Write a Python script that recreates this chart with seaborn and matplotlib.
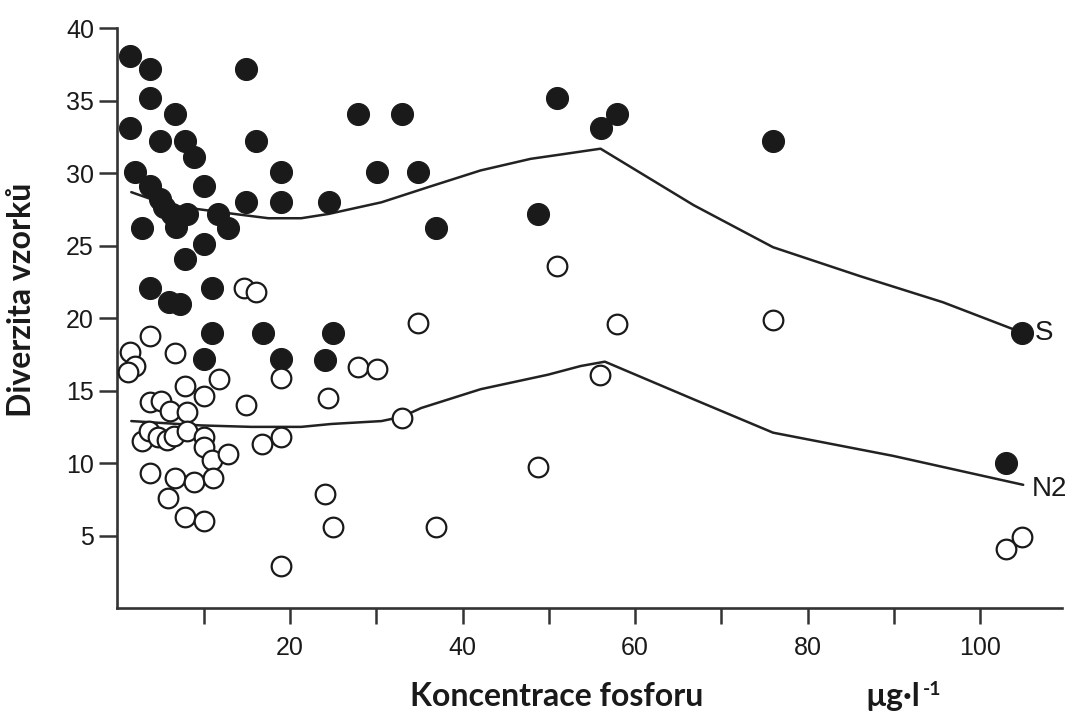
import matplotlib
matplotlib.use("Agg")
import matplotlib.pyplot as plt
import seaborn as sns
import pandas as pd

# body points (S, filled)
s_x = [1.4, 3.8, 3.8, 6.7, 1.4, 4.9, 7.8, 8.9, 2.0, 3.8, 10.0, 4.9, 5.4, 6.3, 8.1, 6.8, 2.8,
       11.7, 12.8, 10.0, 7.8, 3.8, 10.9, 6.0, 7.2, 14.9, 16.0, 19.0, 14.9, 19.0, 11.0, 16.9,
       10.0, 19.0, 27.9, 33.0, 50.9, 30.1, 34.8, 24.5, 36.9, 48.7, 25.0, 24.0, 57.9, 56.0,
       76.0, 104.9, 103.0]
s_y = [38.1, 37.2, 35.2, 34.1, 33.1, 32.2, 32.2, 31.1, 30.1, 29.1, 29.1, 28.2, 27.7, 27.2,
       27.2, 26.3, 26.2, 27.2, 26.2, 25.1, 24.1, 22.1, 22.1, 21.1, 21.0, 37.2, 32.2, 30.1,
       28.0, 28.0, 19.0, 19.0, 17.2, 17.2, 34.1, 34.1, 35.2, 30.1, 30.1, 28.0, 26.2, 27.2,
       19.0, 17.1, 34.1, 33.1, 32.2, 19.0, 10.0]

# N2 points (open circles)
n_x = [14.7, 16.1, 3.8, 1.4, 2.0, 1.2, 6.7, 11.8, 7.8, 10.0, 3.8, 5.1, 6.1, 8.1, 14.9, 2.8,
       3.7, 4.7, 5.7, 6.6, 8.0, 10.0, 10.0, 10.9, 12.8, 16.7, 19.0, 3.8, 6.7, 8.9, 11.1, 5.9,
       7.8, 10.0, 19.0, 19.0, 27.9, 30.1, 34.8, 24.4, 33.0, 24.0, 25.0, 36.9, 48.7, 50.9,
       57.9, 76.0, 55.9, 103.0, 104.9]
n_y = [22.1, 21.8, 18.8, 17.7, 16.7, 16.3, 17.6, 15.8, 15.3, 14.6, 14.2, 14.3, 13.6, 13.5,
       14.0, 11.5, 12.2, 11.8, 11.6, 11.9, 12.2, 11.8, 11.1, 10.2, 10.6, 11.3, 11.8, 9.3, 9.0,
       8.7, 9.0, 7.6, 6.3, 6.0, 2.9, 15.9, 16.6, 16.5, 19.7, 14.5, 13.1, 7.9, 5.6, 5.6, 9.7,
       23.6, 19.6, 19.9, 16.1, 4.1, 4.9]

# smoothed trend lines
s_line_x = [1.6, 5.9, 9.7, 13.5, 17.5, 21.3, 24.5, 30.6, 36.3, 42.1, 47.9, 51.4, 56.0, 66.8,
            76.0, 86.1, 95.7, 104.9]
s_line_y = [28.7, 27.8, 27.5, 27.2, 26.9, 26.9, 27.2, 28.0, 29.1, 30.2, 31.0, 31.3, 31.7, 27.8,
            24.9, 22.9, 21.1, 19.0]
n_line_x = [1.6, 9.7, 15.5, 21.3, 24.8, 30.6, 33.0, 35.2, 42.1, 49.9, 53.7, 56.5, 66.8, 76.0,
            89.9, 105.0]
n_line_y = [12.9, 12.6, 12.5, 12.5, 12.7, 12.9, 13.2, 13.8, 15.1, 16.1, 16.7, 17.0, 14.4, 12.1,
            10.5, 8.5]

x_ticks = [10, 20, 30, 40, 50, 60, 70, 80, 90, 100]
x_tick_labels = ["", "20", "", "40", "", "60", "", "80", "", "100"]
y_ticks = [5, 10, 15, 20, 25, 30, 35, 40]

sns.set_style("ticks")
plt.rcParams["font.family"] = ["Liberation Sans", "DejaVu Sans"]

fig = plt.figure(figsize=(10.76, 7.11), dpi=100)
ax = fig.add_axes([0.1092, 0.1449, 0.8778, 0.8151])

ink = "#1a1a1a"
sns.lineplot(x=s_line_x, y=s_line_y, sort=False, estimator=None, color="#222222", lw=1.8, ax=ax)
sns.lineplot(x=n_line_x, y=n_line_y, sort=False, estimator=None, color="#222222", lw=1.8, ax=ax)

pts_s = pd.DataFrame({"x": s_x, "y": s_y})
pts_n = pd.DataFrame({"x": n_x, "y": n_y})
sns.scatterplot(data=pts_s, x="x", y="y", s=250, color=ink, edgecolor=ink, linewidth=0.8, ax=ax, zorder=3)
sns.scatterplot(data=pts_n, x="x", y="y", s=200, facecolor="white", edgecolor=ink, linewidth=1.6, ax=ax, zorder=4)

ax.text(106.3, 19.0, "S", fontsize=20, color=ink, va="center", ha="left")
ax.text(106.0, 8.2, "N2", fontsize=20, color=ink, va="center", ha="left")

ax.set_xlim(0, 109.5)
ax.set_ylim(0, 40)
ax.set_xticks(x_ticks)
ax.set_xticklabels(x_tick_labels)
ax.set_yticks(y_ticks)
ax.tick_params(axis="x", length=11.5, width=1.8, pad=9, labelsize=18, colors="#333333", labelcolor=ink)
ax.tick_params(axis="y", length=13, width=1.8, pad=4, labelsize=18, colors="#333333", labelcolor=ink)
for side in ["top", "right"]:
    ax.spines[side].set_visible(False)
for side in ["left", "bottom"]:
    ax.spines[side].set_linewidth(1.9)
    ax.spines[side].set_color("#333333")
ax.set_xlabel("")
ax.set_ylabel("")

lab_font = ["Lato", "DejaVu Sans"]
fig.text(557 / 1076, 1 - 706 / 711, "Koncentrace fosforu", fontsize=23, fontweight="bold",
         family=lab_font, ha="center", va="baseline", color=ink)
fig.text(865 / 1076, 1 - 706 / 711, "µg·l", fontsize=23, fontweight="bold",
         family=lab_font, ha="left", va="baseline", color=ink)
fig.text(923 / 1076, 1 - 695 / 711, "-1", fontsize=14, fontweight="bold",
         family=lab_font, ha="left", va="baseline", color=ink)
fig.text(22 / 1076, 1 - 300 / 711, "Diverzita vzorků", fontsize=23, fontweight="bold",
         family=lab_font, rotation=90, ha="center", va="center", color=ink)

fig.savefig("out.png", dpi=100, facecolor="white")
